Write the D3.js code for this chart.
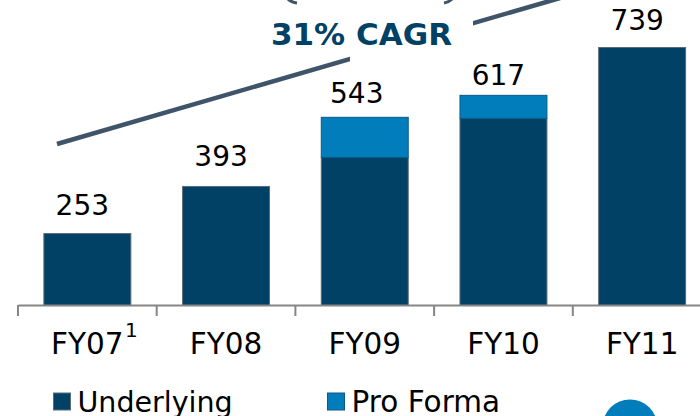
<!DOCTYPE html>
<html><head><meta charset="utf-8">
<style>html,body{margin:0;padding:0;background:#fff;overflow:hidden}svg{display:block}text{font-family:"DejaVu Sans",sans-serif}</style>
<script src="https://cdn.jsdelivr.net/npm/d3@7/dist/d3.min.js"></script>
</head><body><svg id="c" width="700" height="416"></svg>
<script>
const categories = ["FY07","FY08","FY09","FY10","FY11"];
const underlying = [206,341,424,536,739];
const proForma = [0,0,115,66,0];
const totalLabels = ["253","393","543","617","739"];
const seriesNames = ["Underlying","Pro Forma"];
const seriesColors = ["#004165","#007dba"];
const labelGaps = [19,20,14,10,18];
const labelShifts = [-5,-5,-8,-5,-5];
const cagrLabel = "31% CAGR";
const trendValues = [253,739];

const svg = d3.select("#c");
const x = d3.scaleBand().domain(categories).range([18,711.5]).paddingInner(.373).paddingOuter(.1865);
const y = d3.scaleLinear().domain([0,739]).range([305.5,47.5]);
const step = x.step();
const edge = i => x(categories[0]) - (step-x.bandwidth())/2 + i*step;

// trend line, behind the CAGR label
const tx = d3.scaleLinear().domain([0,1]).range([57,560]);
const ty = d3.scaleLinear().domain(trendValues).range([144,-2]);
svg.append("path").attr("d",d3.line().x((d,i)=>tx(i)).y(d=>ty(d))(trendValues))
  .attr("stroke","#3f5468").attr("stroke-width",4.5).attr("fill","none");
svg.append("rect").attr("x",350).attr("y",15).attr("width",123).attr("height",50).attr("fill","#fff");
svg.append("text").attr("x",361.5).attr("y",45).attr("text-anchor","middle")
  .attr("font-weight","bold").attr("fill","#004165").style("font-size","31px").text(cagrLabel);

// cropped parentheses above the chart
svg.append("path").attr("d","M286,-3Q290,2 297,3").attr("stroke","#3f5468").attr("stroke-width",3).attr("fill","none");
svg.append("path").attr("d","M444,3Q450,2 454,-3").attr("stroke","#3f5468").attr("stroke-width",3).attr("fill","none");

// bars
const bars = svg.append("g").attr("stroke","#5b6b78").attr("stroke-width",1);
bars.selectAll("rect.u").data(categories).join("rect").attr("class","u")
  .attr("x",d=>x(d)).attr("width",x.bandwidth())
  .attr("y",(d,i)=>y(underlying[i])).attr("height",(d,i)=>y(0)-y(underlying[i]))
  .attr("fill",seriesColors[0]);
bars.selectAll("rect.p").data(categories.filter((d,i)=>proForma[i]>0)).join("rect").attr("class","p")
  .attr("x",d=>x(d)).attr("width",x.bandwidth())
  .attr("y",d=>{const i=categories.indexOf(d);return y(underlying[i]+proForma[i]);})
  .attr("height",d=>{const i=categories.indexOf(d);return y(underlying[i])-y(underlying[i]+proForma[i]);})
  .attr("fill",seriesColors[1]).attr("stroke","#0a5a86");

// value labels
svg.selectAll("text.v").data(categories).join("text").attr("class","v")
  .attr("x",(d,i)=>x(d)+x.bandwidth()/2+labelShifts[i])
  .attr("y",(d,i)=>y(underlying[i]+proForma[i])-labelGaps[i])
  .attr("text-anchor","middle").attr("font-size",28).attr("fill","#000")
  .text((d,i)=>totalLabels[i]);

// axis
const axis = svg.append("g").attr("transform","translate(0,305)")
  .call(d3.axisBottom(x).tickSize(0).tickPadding(0));
axis.select(".domain").attr("stroke","#868686").attr("stroke-width",2);
axis.selectAll("text").attr("font-size",29.5).attr("fill","#000").attr("y",49).attr("dy",0)
  .attr("dx",0).style("font-family",'"DejaVu Sans",sans-serif');
svg.append("g").selectAll("line").data(d3.range(categories.length)).join("line")
  .attr("x1",edge).attr("x2",edge).attr("y1",305).attr("y2",316)
  .attr("stroke","#868686").attr("stroke-width",2);
svg.append("text").attr("x",x("FY07")+x.bandwidth()/2+44).attr("y",337)
  .attr("text-anchor","middle").attr("font-size",20).attr("fill","#000").text("1");

// legend
const lx = d3.scaleOrdinal().domain(seriesNames).range([53.5,327.5]);
const lg = svg.selectAll("g.l").data(seriesNames).join("g").attr("class","l")
  .attr("transform",d=>`translate(${lx(d)},393)`);
lg.append("rect").attr("width",17).attr("height",17).attr("fill",(d,i)=>seriesColors[i])
  .attr("stroke",(d,i)=>i?"#0a5a86":"#5b6b78");
lg.append("text").attr("x",24).attr("y",19).attr("fill","#000")
  .attr("font-size",(d,i)=>i?29.5:28.5).text(d=>d);

// corner badge, cropped by the page edge
svg.append("circle").attr("cx",630).attr("cy",427).attr("r",27.5).attr("fill","#007dba");
</script></body></html>
